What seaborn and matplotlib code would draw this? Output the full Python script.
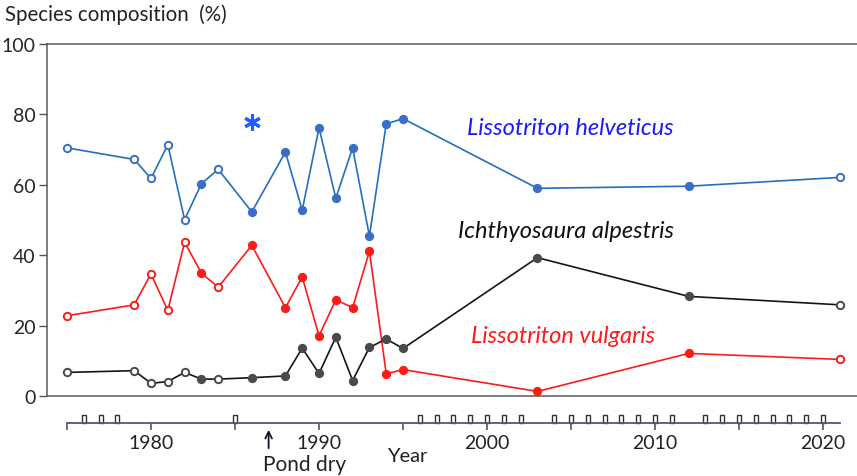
import matplotlib
matplotlib.use("Agg")
import matplotlib.pyplot as plt
import matplotlib.transforms as mtransforms
import seaborn as sns
import pandas as pd

# ---------------- data ----------------
years = [1975, 1979, 1980, 1981, 1982, 1983, 1984, 1986, 1988, 1989, 1990,
         1991, 1992, 1993, 1994, 1995, 2003, 2012, 2021]
helveticus = [70.5, 67.2, 61.8, 71.4, 50.1, 60.3, 64.4, 52.3, 69.3, 52.8, 76.2,
              56.2, 70.5, 45.4, 77.3, 78.8, 59.0, 59.6, 62.1]
vulgaris = [22.8, 25.9, 34.7, 24.3, 43.7, 34.9, 30.9, 42.8, 25.1, 33.8, 17.1,
            27.3, 25.1, 41.1, 6.3, 7.5, 1.3, 12.1, 10.4]
alpestris = [6.7, 7.2, 3.6, 4.1, 6.7, 4.8, 4.8, 5.2, 5.7, 13.6, 6.4,
             16.7, 4.4, 13.8, 16.2, 13.5, 39.3, 28.3, 25.9]
filled = [False, False, False, False, False, True, False, True, True, True, True,
          True, True, True, True, True, True, True, False]
pond_dry_year = 1987
asterisk_year, asterisk_value = 1986, 77.8
first_year, last_year = 1975, 2021
unsampled_years = [y for y in range(first_year, last_year + 1)
                   if y not in years and y != pond_dry_year]
y_ticks = [0, 20, 40, 60, 80, 100]
x_major_ticks = [1980, 1990, 2000, 2010, 2020]
x_minor_ticks = [1975, 1985, 1995, 2005, 2015]

df = pd.DataFrame({"year": years, "helveticus": helveticus,
                   "vulgaris": vulgaris, "alpestris": alpestris,
                   "filled": filled})

# ---------------- style ----------------
sns.set_theme(style="white")
plt.rcParams["font.family"] = ["Lato", "DejaVu Sans"]

W, H = 857, 477
fig = plt.figure(figsize=(W / 100, H / 100), dpi=100)

xlim = (1973.81, 2022.02)
ax = fig.add_axes([47 / W, 1 - 397 / H, 810 / W, 352 / H])
ax.set_xlim(*xlim)
ax.set_ylim(0, 100)

series = [
    ("helveticus", "#2270c0", "#3a6ec6", "#3a6ec6"),
    ("vulgaris", "#ff1a1a", "#ff1a1a", "#ff1a1a"),
    ("alpestris", "#151515", "#4a4a4a", "#4a4a4a"),
]
for col, lcolor, mcolor, ecolor in series:
    sns.lineplot(data=df, x="year", y=col, color=lcolor, lw=1.2, ax=ax,
                 zorder=2, legend=False)
    f = df[df["filled"]]
    o = df[~df["filled"]]
    sns.scatterplot(data=f, x="year", y=col, color=mcolor, s=32,
                    edgecolor=mcolor, linewidth=1.0, ax=ax, zorder=3,
                    legend=False, clip_on=False)
    sns.scatterplot(data=o, x="year", y=col, color="white", s=28,
                    edgecolor=ecolor, linewidth=1.4, ax=ax, zorder=3,
                    legend=False, clip_on=False)

ax.plot([asterisk_year], [asterisk_value], marker=(6, 2, 0), ms=12,
        mew=2.2, color="#1f5fff", ls="none")

ax.set_xlabel("")
ax.set_ylabel("")
ax.set_xticks([])
ax.set_yticks(y_ticks)
ax.tick_params(axis="y", direction="out", length=6, width=1, color="#555555",
               labelsize=14, pad=2, left=True)
for s in ["left", "top", "bottom"]:
    ax.spines[s].set_color("#5a5a5a")
    ax.spines[s].set_linewidth(1.1)
ax.spines["right"].set_visible(False)

txt_kw = dict(fontsize=17, style="italic", va="center", ha="left")
ax.text(1998.8, 76.4, "Lissotriton helveticus", color="#1a1aff", **txt_kw)
ax.text(1998.3, 46.9, "Ichthyosaura alpestris", color="#111111", **txt_kw)
ax.text(1999.05, 17.3, "Lissotriton vulgaris", color="#ff1a1a", **txt_kw)

fig.text(5 / W, 1 - 15 / H, "Species composition  (%)", fontsize=14.8,
         color="#222222", va="center", ha="left")

# ---------------- year axis ----------------
axis_color = "#5e4f7e"
ax2 = fig.add_axes([47 / W, 1 - 424 / H, 810 / W, 20 / H])
ax2.set_xlim(*xlim)
ax2.set_ylim(0, 1)
ax2.patch.set_alpha(0)
for s in ["left", "top", "right"]:
    ax2.spines[s].set_visible(False)
ax2.spines["bottom"].set_bounds(first_year, last_year)
ax2.spines["bottom"].set_color(axis_color)
ax2.spines["bottom"].set_linewidth(1.3)
ax2.set_yticks([])
ax2.set_xticks(x_major_ticks)
ax2.set_xticks(x_minor_ticks, minor=True)
ax2.tick_params(axis="x", which="both", direction="out", length=5, width=1.2,
                color=axis_color, bottom=True)
ax2.tick_params(axis="x", which="major", labelsize=14, pad=3,
                labelcolor="#222222")

rect = [(-0.5, 0), (-0.5, 1.6), (0.5, 1.6), (0.5, 0), (-0.5, 0)]
ax2.plot(unsampled_years, [0] * len(unsampled_years), ls="none",
         marker=rect, ms=11.5, mfc="white", mec="#333333", mew=1.0,
         clip_on=False)

blend = mtransforms.blended_transform_factory(ax2.transData, fig.transFigure)
ax2.annotate("", xy=(pond_dry_year, 1 - 428 / H), xycoords=blend,
             xytext=(pond_dry_year, 1 - 452 / H), textcoords=blend,
             arrowprops=dict(arrowstyle="->", color="#1a1030", lw=1.3))
fig.text(263 / W, 1 - 465 / H, "Pond dry", fontsize=15, color="#222222",
         va="center", ha="left")
fig.text(387 / W, 1 - 457 / H, "Year", fontsize=14.5, color="#222222",
         va="center", ha="left")

fig.savefig("out.png", dpi=100)
